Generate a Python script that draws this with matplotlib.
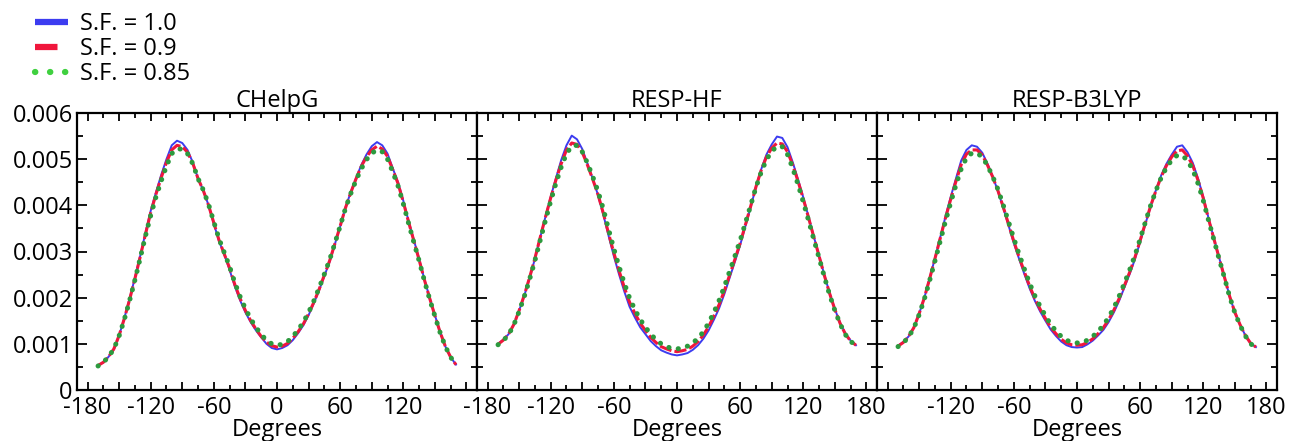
import matplotlib
matplotlib.use("Agg")
import matplotlib.pyplot as plt
from matplotlib.lines import Line2D
from matplotlib.ticker import MultipleLocator, FuncFormatter

plt.rcParams['font.family'] = ['Open Sans', 'DejaVu Sans']

# dihedral angle grid (degrees), -170 .. 170 step 5
angles = list(range(-170, 171, 5))

titles = ['CHelpG', 'RESP-HF', 'RESP-B3LYP']
labels = ['S.F. = 1.0', 'S.F. = 0.9', 'S.F. = 0.85']

# CHelpG
chelpg_10 = [
    0.00053, 0.00060, 0.00072, 0.00088, 0.00118, 0.00156, 0.00198, 0.00243, 0.00290, 0.00340,
    0.00388, 0.00428, 0.00466, 0.00500, 0.00530, 0.00540, 0.00535, 0.00520, 0.00493, 0.00458,
    0.00432, 0.00400, 0.00360, 0.00322, 0.00293, 0.00260, 0.00224, 0.00194, 0.00168, 0.00147,
    0.00129, 0.00114, 0.00100, 0.00091, 0.00088, 0.00091, 0.00097, 0.00108, 0.00123, 0.00140,
    0.00162, 0.00188, 0.00216, 0.00247, 0.00278, 0.00316, 0.00354, 0.00395, 0.00428, 0.00458,
    0.00487, 0.00510, 0.00528, 0.00537, 0.00530, 0.00512, 0.00480, 0.00450, 0.00410, 0.00366,
    0.00325, 0.00284, 0.00240, 0.00200, 0.00162, 0.00125, 0.00094, 0.00071, 0.00055]
chelpg_09 = [
    0.00053, 0.00060, 0.00072, 0.00089, 0.00118, 0.00155, 0.00196, 0.00241, 0.00288, 0.00337,
    0.00384, 0.00424, 0.00460, 0.00493, 0.00520, 0.00530, 0.00527, 0.00515, 0.00491, 0.00458,
    0.00432, 0.00400, 0.00362, 0.00324, 0.00294, 0.00264, 0.00228, 0.00198, 0.00172, 0.00150,
    0.00132, 0.00116, 0.00104, 0.00096, 0.00093, 0.00095, 0.00101, 0.00112, 0.00126, 0.00143,
    0.00165, 0.00190, 0.00218, 0.00249, 0.00280, 0.00317, 0.00355, 0.00394, 0.00427, 0.00457,
    0.00484, 0.00505, 0.00520, 0.00528, 0.00522, 0.00506, 0.00477, 0.00447, 0.00407, 0.00364,
    0.00323, 0.00282, 0.00239, 0.00199, 0.00161, 0.00125, 0.00094, 0.00071, 0.00055]
chelpg_085 = [
    0.00052, 0.00060, 0.00072, 0.00089, 0.00117, 0.00153, 0.00194, 0.00238, 0.00285, 0.00333,
    0.00378, 0.00418, 0.00453, 0.00485, 0.00512, 0.00522, 0.00522, 0.00512, 0.00490, 0.00458,
    0.00433, 0.00402, 0.00364, 0.00327, 0.00297, 0.00267, 0.00232, 0.00202, 0.00176, 0.00154,
    0.00136, 0.00120, 0.00108, 0.00100, 0.00097, 0.00099, 0.00105, 0.00116, 0.00130, 0.00147,
    0.00168, 0.00193, 0.00221, 0.00251, 0.00282, 0.00318, 0.00355, 0.00393, 0.00425, 0.00454,
    0.00479, 0.00499, 0.00513, 0.00520, 0.00516, 0.00500, 0.00472, 0.00442, 0.00403, 0.00361,
    0.00320, 0.00280, 0.00237, 0.00197, 0.00160, 0.00124, 0.00094, 0.00071, 0.00054]

# RESP-HF
resphf_10 = [
    0.00100, 0.00109, 0.00121, 0.00142, 0.00172, 0.00205, 0.00243, 0.00284, 0.00330, 0.00375,
    0.00418, 0.00459, 0.00498, 0.00530, 0.00551, 0.00543, 0.00522, 0.00490, 0.00457, 0.00422,
    0.00380, 0.00334, 0.00290, 0.00250, 0.00213, 0.00180, 0.00157, 0.00136, 0.00121, 0.00106,
    0.00095, 0.00086, 0.00081, 0.00077, 0.00075, 0.00077, 0.00080, 0.00087, 0.00097, 0.00111,
    0.00129, 0.00152, 0.00177, 0.00208, 0.00243, 0.00278, 0.00314, 0.00355, 0.00396, 0.00440,
    0.00478, 0.00510, 0.00532, 0.00549, 0.00546, 0.00526, 0.00493, 0.00456, 0.00417, 0.00375,
    0.00332, 0.00291, 0.00249, 0.00210, 0.00175, 0.00145, 0.00122, 0.00107, 0.00097]
resphf_09 = [
    0.00099, 0.00108, 0.00121, 0.00142, 0.00172, 0.00206, 0.00244, 0.00285, 0.00330, 0.00374,
    0.00416, 0.00455, 0.00490, 0.00520, 0.00535, 0.00532, 0.00515, 0.00487, 0.00456, 0.00423,
    0.00383, 0.00339, 0.00297, 0.00258, 0.00222, 0.00190, 0.00166, 0.00145, 0.00129, 0.00114,
    0.00103, 0.00094, 0.00089, 0.00085, 0.00083, 0.00085, 0.00088, 0.00095, 0.00105, 0.00119,
    0.00137, 0.00160, 0.00185, 0.00215, 0.00249, 0.00283, 0.00318, 0.00358, 0.00398, 0.00440,
    0.00476, 0.00505, 0.00524, 0.00535, 0.00533, 0.00516, 0.00487, 0.00452, 0.00414, 0.00373,
    0.00331, 0.00290, 0.00248, 0.00209, 0.00174, 0.00144, 0.00121, 0.00106, 0.00097]
resphf_085 = [
    0.00098, 0.00107, 0.00120, 0.00141, 0.00170, 0.00203, 0.00240, 0.00280, 0.00324, 0.00367,
    0.00409, 0.00448, 0.00483, 0.00512, 0.00528, 0.00530, 0.00516, 0.00491, 0.00462, 0.00430,
    0.00392, 0.00348, 0.00306, 0.00267, 0.00231, 0.00199, 0.00174, 0.00153, 0.00136, 0.00121,
    0.00109, 0.00100, 0.00094, 0.00090, 0.00089, 0.00091, 0.00095, 0.00102, 0.00112, 0.00126,
    0.00145, 0.00168, 0.00194, 0.00224, 0.00257, 0.00290, 0.00324, 0.00362, 0.00400, 0.00439,
    0.00472, 0.00499, 0.00517, 0.00528, 0.00527, 0.00510, 0.00480, 0.00445, 0.00407, 0.00367,
    0.00326, 0.00286, 0.00245, 0.00206, 0.00172, 0.00143, 0.00120, 0.00105, 0.00097]

# RESP-B3LYP
respb3_10 = [
    0.00096, 0.00104, 0.00116, 0.00135, 0.00165, 0.00200, 0.00242, 0.00285, 0.00330, 0.00375,
    0.00418, 0.00458, 0.00497, 0.00520, 0.00530, 0.00527, 0.00514, 0.00490, 0.00462, 0.00430,
    0.00394, 0.00356, 0.00318, 0.00284, 0.00251, 0.00220, 0.00193, 0.00170, 0.00150, 0.00131,
    0.00117, 0.00105, 0.00097, 0.00093, 0.00092, 0.00093, 0.00099, 0.00107, 0.00118, 0.00130,
    0.00147, 0.00168, 0.00193, 0.00222, 0.00251, 0.00283, 0.00321, 0.00360, 0.00398, 0.00433,
    0.00465, 0.00490, 0.00510, 0.00527, 0.00530, 0.00515, 0.00492, 0.00458, 0.00418, 0.00372,
    0.00329, 0.00287, 0.00246, 0.00203, 0.00168, 0.00141, 0.00118, 0.00101, 0.00093]
respb3_09 = [
    0.00095, 0.00103, 0.00116, 0.00135, 0.00165, 0.00200, 0.00241, 0.00284, 0.00328, 0.00372,
    0.00413, 0.00452, 0.00488, 0.00511, 0.00520, 0.00520, 0.00509, 0.00487, 0.00461, 0.00431,
    0.00396, 0.00359, 0.00322, 0.00288, 0.00256, 0.00225, 0.00198, 0.00175, 0.00155, 0.00136,
    0.00122, 0.00110, 0.00102, 0.00098, 0.00097, 0.00098, 0.00103, 0.00111, 0.00122, 0.00135,
    0.00152, 0.00173, 0.00198, 0.00226, 0.00255, 0.00287, 0.00324, 0.00362, 0.00399, 0.00432,
    0.00462, 0.00486, 0.00505, 0.00518, 0.00520, 0.00507, 0.00486, 0.00454, 0.00415, 0.00370,
    0.00328, 0.00286, 0.00245, 0.00203, 0.00168, 0.00141, 0.00118, 0.00101, 0.00093]
respb3_085 = [
    0.00094, 0.00102, 0.00115, 0.00134, 0.00163, 0.00197, 0.00237, 0.00279, 0.00322, 0.00365,
    0.00406, 0.00444, 0.00479, 0.00503, 0.00513, 0.00513, 0.00505, 0.00486, 0.00462, 0.00434,
    0.00400, 0.00364, 0.00328, 0.00294, 0.00262, 0.00231, 0.00204, 0.00181, 0.00161, 0.00142,
    0.00128, 0.00116, 0.00108, 0.00103, 0.00102, 0.00103, 0.00108, 0.00116, 0.00127, 0.00140,
    0.00157, 0.00178, 0.00203, 0.00231, 0.00260, 0.00291, 0.00327, 0.00364, 0.00400, 0.00432,
    0.00460, 0.00482, 0.00498, 0.00508, 0.00508, 0.00497, 0.00477, 0.00447, 0.00410, 0.00367,
    0.00326, 0.00284, 0.00244, 0.00202, 0.00167, 0.00140, 0.00117, 0.00100, 0.00092]

panels = [
    (chelpg_10, chelpg_09, chelpg_085),
    (resphf_10, resphf_09, resphf_085),
    (respb3_10, respb3_09, respb3_085),
]

blue = '#3c3cf0'
red = '#f0163c'
green = '#2c9a3e'
green_leg = '#3fd03f'

W, H = 1301, 441
fig = plt.figure(figsize=(W / 100, H / 100), dpi=100)


def yfmt(v, pos):
    if abs(v) < 1e-9:
        return '0'
    return '%.3f' % v


def make_xfmt(hide):
    def f(v, pos):
        iv = int(round(v))
        if iv % 60 != 0 or iv == hide:
            return ''
        return str(iv)
    return f


lefts = [77, 477, 877]
hidden = [180, None, -180]
for i, left in enumerate(lefts):
    ax = fig.add_axes([left / W, 1 - 390 / H, 400 / W, 277 / H])
    s10, s09, s085 = panels[i]
    ax.plot(angles, s10, color=blue, lw=1.4, solid_joinstyle='round')
    ax.plot(angles, s09, color=red, lw=2.2, dashes=(4, 1.0), dash_capstyle='butt')
    ax.plot(angles, s085, color=green, lw=3.6, dashes=(0.05, 1.85), dash_capstyle='round')

    ax.set_xlim(-190, 190)
    ax.set_ylim(0, 0.006)
    ax.xaxis.set_major_locator(MultipleLocator(30))
    ax.xaxis.set_minor_locator(MultipleLocator(15))
    ax.xaxis.set_major_formatter(FuncFormatter(make_xfmt(hidden[i])))
    ax.yaxis.set_major_locator(MultipleLocator(0.001))
    ax.yaxis.set_minor_locator(MultipleLocator(0.0005))
    ax.yaxis.set_major_formatter(FuncFormatter(yfmt))
    ax.tick_params(which='both', direction='in', top=True, right=True,
                   width=1.3, labelsize=17, pad=3)
    ax.tick_params(axis='y', which='major', length=7)
    ax.tick_params(axis='y', which='minor', length=4)
    ax.tick_params(axis='x', which='major', length=6)
    ax.tick_params(axis='x', which='minor', length=3.5)
    ax.tick_params(axis='x', which='major', pad=4)
    if i > 0:
        ax.tick_params(axis='y', labelleft=False)
    else:
        for lbl in ax.get_yticklabels():
            lbl.set_verticalalignment('center_baseline')
    for sp in ax.spines.values():
        sp.set_linewidth(1.6)
    ax.set_title(titles[i], fontsize=17, pad=2)
    ax.set_xlabel('Degrees', fontsize=17, labelpad=-1)

handles = [
    Line2D([], [], color=blue, lw=4.5, solid_capstyle='butt'),
    Line2D([], [], color=red, lw=4.5, dashes=(3.6, 10), dash_capstyle='butt'),
    Line2D([], [], color=green_leg, lw=4.5, dashes=(0.05, 2.35), dash_capstyle='round'),
]
fig.legend(handles, labels, loc='upper left', bbox_to_anchor=(35 / W, 1 - 12 / H),
           frameon=False, fontsize=17, handlelength=1.4, handletextpad=0.5,
           labelspacing=0.05, borderpad=0, borderaxespad=0)

fig.savefig('out.png', dpi=100)
